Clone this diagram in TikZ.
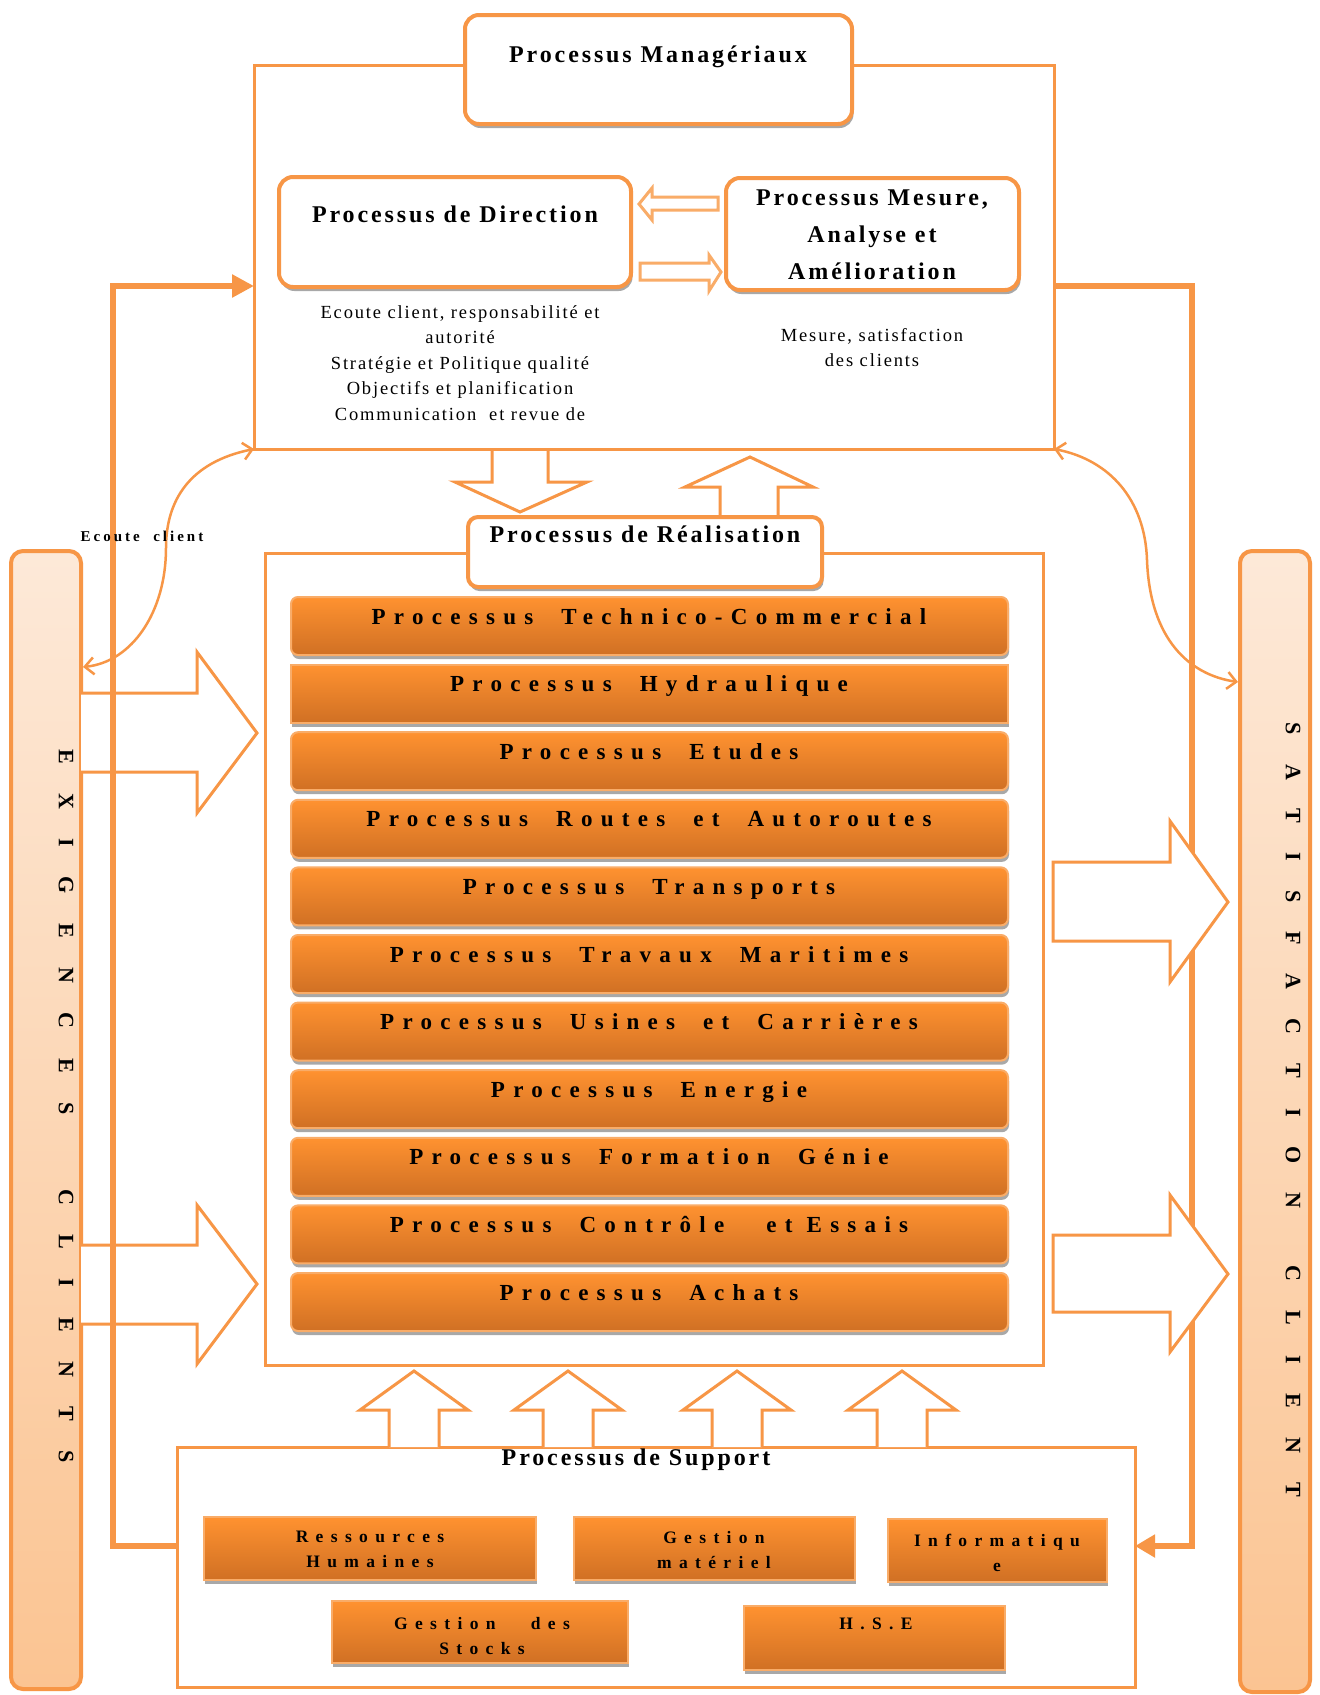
\documentclass[tikz,border=0pt]{standalone}
\usepackage{fontspec}
\setmainfont{Liberation Serif}
\usetikzlibrary{arrows.meta,shadows}
\definecolor{org}{RGB}{247,150,70}
\definecolor{orgl}{RGB}{249,172,104}
\definecolor{bartop}{RGB}{255,146,48}
\definecolor{barbot}{RGB}{208,112,36}
\definecolor{coltop}{RGB}{253,233,216}
\definecolor{colbot}{RGB}{251,196,146}
\definecolor{shgray}{RGB}{168,168,168}
\tikzset{
  box/.style={anchor=north west, inner sep=0pt, outer sep=0pt},
  frm/.style={box, draw=org, line width=3pt},
  rbox/.style={box, draw=org, line width=4pt, fill=white, rounded corners=14pt,
     general shadow={fill=shgray, shadow xshift=1.5pt, shadow yshift=-4pt}},
  col/.style={box, draw=org, line width=4pt, top color=coltop, bottom color=colbot, rounded corners=12pt},
  bar/.style={box, draw=orgl, line width=2pt, top color=bartop, bottom color=barbot,
     general shadow={fill=shgray, shadow xshift=1pt, shadow yshift=-4pt}},
  hollow/.style={draw=org, line width=3pt, fill=white, line join=miter},
  conn/.style={draw=org, line width=6pt},
  curv/.style={draw=org, line width=2.5pt, {Straight Barb[length=9pt,width=17pt]}-{Straight Barb[length=9pt,width=17pt]}},
  hdr/.style={inner sep=0pt, anchor=base, font=\fontsize{24}{37}\selectfont\bfseries\addfontfeatures{LetterSpace=12}},
  hdrm/.style={inner sep=0pt, anchor=north, align=center, font=\fontsize{24}{37}\selectfont\bfseries\addfontfeatures{LetterSpace=12}},
  small/.style={inner sep=0pt, anchor=north, align=center, font=\fontsize{18.5}{25.5}\selectfont\addfontfeatures{LetterSpace=10}},
  bartext/.style={inner sep=0pt, anchor=base, font=\fontsize{23}{25}\selectfont\bfseries\addfontfeatures{LetterSpace=36}},
  stext/.style={inner sep=0pt, anchor=north, align=center, font=\fontsize{17.5}{25}\selectfont\bfseries\addfontfeatures{LetterSpace=42}},
  coltext/.style={inner sep=0pt, rotate=-90, font=\fontsize{22}{24}\selectfont\bfseries\addfontfeatures{LetterSpace=134}},
  lbl/.style={inner sep=0pt, anchor=base, font=\fontsize{15}{18}\selectfont\bfseries\addfontfeatures{LetterSpace=20}},
}
\begin{document}
\begin{tikzpicture}[x=1pt,y=-1pt]
\useasboundingbox[fill=white] (0,0) rectangle (1320,1695);

% side columns
\node[col, minimum width=70pt, minimum height=1138pt] (exl) at (11,551) {};
\node[col, minimum width=70pt, minimum height=1141pt] (exr) at (1240,551) {};
\node[coltext] (exltxt) at (66,1106) {EXIGENCES\hspace{40pt} CLIENTS};
\node[coltext] (exrtxt) at (1293,1110) {SATISFACTION\hspace{22pt} CLIENT};

% frames
\node[frm, minimum width=800pt, minimum height=384pt] (mfr) at (254,65) {};
\node[frm, minimum width=778pt, minimum height=812pt] (rfr) at (265,553) {};
\node[frm, minimum width=958pt, minimum height=240pt] (sup) at (177,1447) {};

% big hollow arrows on the left
\draw[hollow] (81,693) -- (197,693) -- (197,652) -- (257,733) -- (197,813) -- (197,772) -- (81,772);
\draw[hollow] (81,1245) -- (197,1245) -- (197,1205) -- (257,1284) -- (197,1364) -- (197,1324) -- (81,1324);

% thick connectors
\coordinate (lb) at (113,1546);
\coordinate (lt) at (113,286);
\coordinate (rt) at (1192,286);
\coordinate (rb) at (1192,1546);
\draw[conn,-{Triangle[length=22pt,width=22pt]}] (sup.west |- lb) -- (lb) -- (lt) -- (mfr.west |- lt);
\draw[conn,-{Triangle[length=20pt,width=22pt]}] (mfr.east |- rt) -- (rt) -- (rb) -- (sup.east |- rb);

% big hollow arrows on the right
\draw[hollow] (1053,862) -- (1170,862) -- (1170,821) -- (1228,902) -- (1170,982) -- (1170,941) -- (1053,941) -- cycle;
\draw[hollow] (1053,1235) -- (1170,1235) -- (1170,1195) -- (1228,1274) -- (1170,1352) -- (1170,1312) -- (1053,1312) -- cycle;

% curved double arrows
\coordinate (ecl) at (83,667);
\coordinate (ecr) at (1238,682);
\draw[curv] (mfr.south west) .. controls (190,462) and (166,500) .. (166,548) .. controls (166,612) and (132,662) .. (ecl);
\draw[curv] (mfr.south east) .. controls (1110,460) and (1145,500) .. (1147,560) .. controls (1150,640) and (1190,675) .. (ecr);
\node[lbl] (ecoute) at (142,541) {Ecoute~ client};

% managerial boxes
\node[rbox, minimum width=387pt, minimum height=109pt] (man) at (465,15) {};
\node[hdr] (mantxt) at (658,62) {Processus Managériaux};
\node[rbox, minimum width=352pt, minimum height=110pt] (dir) at (279,177) {};
\node[hdr] (dirtxt) at (455,222) {Processus de Direction};
\node[rbox, minimum width=293pt, minimum height=112pt] (mes) at (726,178) {};
\node[hdrm] (mestxt) at (872,190) {Processus Mesure,\\Analyse et\\Amélioration};

% small hollow arrows
\draw[hollow, draw=orgl] (718,197) -- (652,197) -- (652,188) -- (639,204) -- (652,220) -- (652,210) -- (718,210) -- cycle;
\draw[hollow, draw=orgl] (640,263) -- (709,263) -- (709,255) -- (721,272) -- (709,291) -- (709,280) -- (640,280) -- cycle;

% texts under boxes
\node[small] (dirnotes) at (460,305) {Ecoute client, responsabilité et\\autorité\\Stratégie et Politique qualité\\Objectifs et planification\\Communication~ et revue de};
\node[small] (mesnotes) at (872,328) {Mesure, satisfaction\\des clients};

% arrows between managerial and realisation
\draw[hollow] (492,451) -- (492,482) -- (455,482) -- (520,512) -- (587,482) -- (548,482) -- (548,451);
\draw[hollow] (720,515) -- (720,487) -- (685,487) -- (750,457) -- (813,487) -- (778,487) -- (778,515);

% realisation title
\node[rbox, rounded corners=10pt, minimum width=354pt, minimum height=70pt] (rea) at (468,517) {};
\node[hdr] (reatxt) at (645,542) {Processus de Réalisation};

% bars
\foreach \i/\r/\t in {1/7/{Processus~ Technico-Commercial},
                      2/0/{Processus~ Hydraulique},
                      3/7/{Processus~ Etudes},
                      4/7/{Processus~ Routes~ et~ Autoroutes},
                      5/7/{Processus~ Transports},
                      6/7/{Processus~ Travaux~ Maritimes},
                      7/7/{Processus~ Usines~ et~ Carrières},
                      8/7/{Processus~ Energie},
                      9/7/{Processus~ Formation~ Génie},
                      10/7/{Processus~ Contrôle~~ et Essais},
                      11/7/{Processus~ Achats}}{
  \node[bar, rounded corners=\r pt, minimum width=717pt, minimum height=58pt] (bar\i) at (291,{597+67.6*(\i-1)}) {};
  \node[bartext] (bt\i) at (649,{597+67.6*(\i-1)+27}) {\t};
}

% support up arrows
\foreach \c [count=\k] in {414,568,737,902}{
  \draw[hollow] (\c-25,1447) -- (\c-25,1410) -- (\c-54,1410) -- (\c,1371) -- (\c+54,1410) -- (\c+25,1410) -- (\c+25,1447);
}
\node[hdr] (suptxt) at (636,1465) {Processus de Support};

% support boxes
\node[bar, minimum width=332pt, minimum height=63pt] (rh) at (204,1517) {};
\node[stext] (rhtxt) at (370,1531) {Ressources\\Humaines};
\node[bar, minimum width=281pt, minimum height=63pt] (gm) at (574,1517) {};
\node[stext] (gmtxt) at (714,1531) {Gestion\\matériel};
\node[bar, minimum width=219pt, minimum height=63pt] (inf) at (888,1519) {};
\node[stext] (inftxt) at (997,1534) {Informatiqu\\e};
\node[bar, minimum width=296pt, minimum height=62pt] (stk) at (332,1601) {};
\node[stext] (stktxt) at (482,1617) {Gestion~~ des\\Stocks};
\node[bar, minimum width=261pt, minimum height=64pt] (hse) at (744,1606) {};
\node[stext] (hsetxt) at (876,1618) {H.S.E};
\end{tikzpicture}
\end{document}
